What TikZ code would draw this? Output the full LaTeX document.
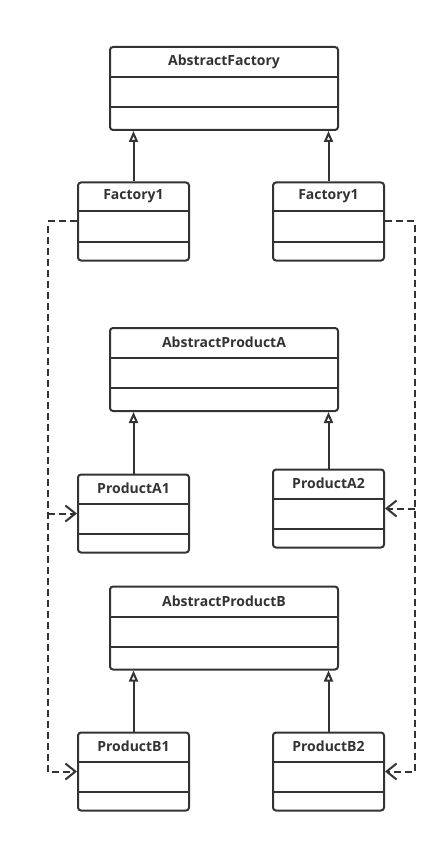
\documentclass[tikz,border=0pt]{standalone}
\usepackage{fontspec}
\setmainfont{Open Sans}
\usetikzlibrary{arrows.meta}
\usetikzlibrary{calc}
\usepackage{xcolor}
\definecolor{umlgray}{HTML}{333333}

\begin{document}
\begin{tikzpicture}[x=1pt,y=-1pt,line width=2pt,color=umlgray,
    bigbox/.style={draw, fill=white, rounded corners=3pt, minimum width=228pt, minimum height=83pt, inner sep=0pt},
    smallbox/.style={draw, fill=white, rounded corners=3pt, minimum width=111pt, minimum height=78pt, inner sep=0pt},
    classname/.style={font=\bfseries\fontsize{14}{16}\selectfont},
    inherit/.style={-{Triangle[open,length=11pt,width=9pt]}},
    depend/.style={dash pattern=on 7pt off 4pt, -{Straight Barb[length=10pt,width=16pt]}}]
      \useasboundingbox (0,0) rectangle (447,842);

      % Classes
      \node[bigbox] (af) at (224,88.5) {};
      \node[bigbox] (apa) at (224,369.5) {};
      \node[bigbox] (apb) at (224,628) {};
      \node[smallbox] (f1) at (133.5,221.5) {};
      \node[smallbox] (f2) at (328.5,221.5) {};
      \node[smallbox] (pa1) at (133.5,513.5) {};
      \node[smallbox] (pa2) at (328.5,508.5) {};
      \node[smallbox] (pb1) at (133.5,771.5) {};
      \node[smallbox] (pb2) at (328.5,771.5) {};

      % Names and compartments
      \foreach \n/\t in {af/AbstractFactory,apa/AbstractProductA,apb/AbstractProductB}
      {
        \node[classname] (\n-name) at ($(\n.north)+(0,15.5)$) {\t};
        \draw ($(\n.north west)+(0,31)$) -- ($(\n.north east)+(0,31)$);
        \draw ($(\n.north west)+(0,61)$) -- ($(\n.north east)+(0,61)$);
      }
      \foreach \n/\t in {f1/Factory1,f2/Factory1,pa1/ProductA1,pa2/ProductA2,pb1/ProductB1,pb2/ProductB2}
      {
        \node[classname] (\n-name) at ($(\n.north)+(0,15)$) {\t};
        \draw ($(\n.north west)+(0,30)$) -- ($(\n.north east)+(0,30)$);
        \draw ($(\n.north west)+(0,60)$) -- ($(\n.north east)+(0,60)$);
      }

      % Inheritance
      \draw[inherit] (f1.north) -- (f1.north |- af.south);
      \draw[inherit] (f2.north) -- (f2.north |- af.south);
      \draw[inherit] (pa1.north) -- (pa1.north |- apa.south);
      \draw[inherit] (pa2.north) -- (pa2.north |- apa.south);
      \draw[inherit] (pb1.north) -- (pb1.north |- apb.south);
      \draw[inherit] (pb2.north) -- (pb2.north |- apb.south);

      % Dependencies
      \coordinate (lrail) at (48,0);
      \coordinate (rrail) at (415,0);
      \draw[depend] (f1.west) -- (f1.west -| lrail) -- (pb1.west -| lrail) -- (pb1.west);
      \draw[depend] (pa1.west -| lrail) -- (pa1.west);
      \draw[depend] (f2.east) -- (f2.east -| rrail) -- (pb2.east -| rrail) -- (pb2.east);
      \draw[depend] (pa2.east -| rrail) -- (pa2.east);
\end{tikzpicture}
\end{document}
